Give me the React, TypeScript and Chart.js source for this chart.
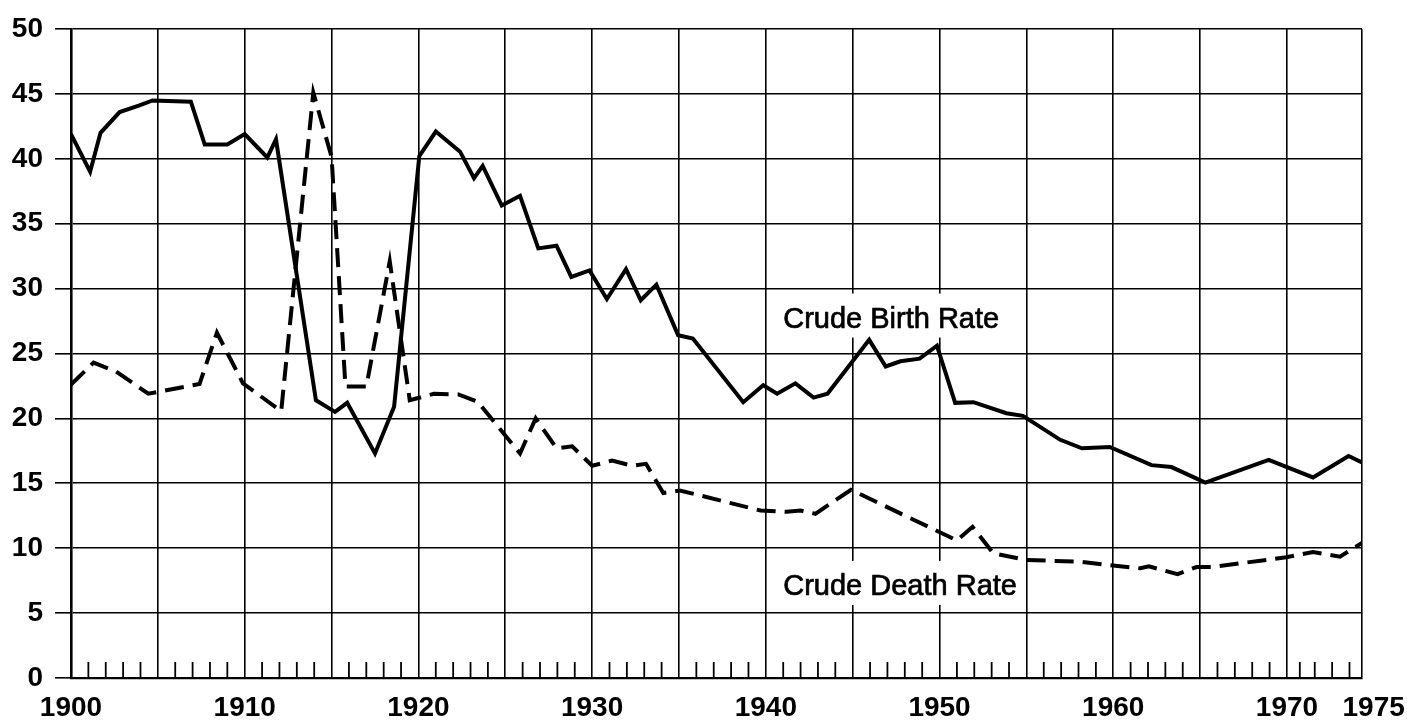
import React, { useEffect, useRef } from 'react';
import { Chart, registerables } from 'chart.js';

Chart.register(...registerables);

// ---- axis values ----
const X_MIN = 1900;
const X_MAX = 1974.32; // right edge of the printed grid, labelled "1975"
const Y_MIN = 0;
const Y_MAX = 50;
const Y_STEP = 5;
const gridYears = [1900, 1905, 1910, 1915, 1920, 1925, 1930, 1935, 1940, 1945, 1950, 1955, 1960, 1965, 1970];
const labelYears = [1900, 1910, 1920, 1930, 1940, 1950, 1960, 1970];
const endLabel = '1975';
const minorYears = [
  1901, 1902, 1903, 1904, 1906, 1907, 1908, 1909, 1911, 1912, 1913, 1914,
  1916, 1917, 1918, 1919, 1921, 1922, 1923, 1924, 1926, 1927, 1928, 1929,
  1931, 1932, 1933, 1934, 1936, 1937, 1938, 1939, 1941, 1942, 1943, 1944,
  1946, 1947, 1948, 1949, 1951, 1952, 1953, 1954, 1956, 1957, 1958, 1959,
  1961, 1962, 1963, 1964, 1966, 1967, 1968, 1969, 1970.74, 1971.6, 1972.6, 1973.6,
];

// ---- series ----
const birthYears = [
  1900.0, 1901.1, 1901.7, 1902.8, 1903.9, 1904.7, 1906.9, 1907.7, 1909.0, 1910.0,
  1911.3, 1911.8, 1914.1, 1915.2, 1915.9, 1917.5, 1918.6, 1920.05, 1921.0, 1922.4,
  1923.2, 1923.7, 1924.8, 1925.85, 1926.9, 1927.95, 1928.8, 1929.85, 1930.85, 1931.95,
  1932.8, 1933.7, 1934.95, 1935.8, 1938.7, 1939.85, 1940.65, 1941.7, 1942.75, 1943.55,
  1945.95, 1946.9, 1947.75, 1948.85, 1949.85, 1950.9, 1951.95, 1953.85, 1954.8, 1956.95,
  1958.2, 1959.8, 1962.2, 1963.35, 1965.3, 1968.95, 1971.5, 1973.55, 1974.32,
];
const birthRates = [
  41.9, 39.0, 42.0, 43.6, 44.1, 44.5, 44.4, 41.1, 41.1, 41.9,
  40.1, 41.5, 21.4, 20.5, 21.2, 17.3, 20.9, 40.2, 42.1, 40.55,
  38.5, 39.45, 36.4, 37.15, 33.1, 33.3, 30.9, 31.4, 29.2, 31.5,
  29.1, 30.3, 26.4, 26.15, 21.25, 22.55, 21.9, 22.7, 21.6, 21.9,
  26.05, 24.0, 24.4, 24.6, 25.6, 21.2, 21.25, 20.4, 20.2, 18.35,
  17.7, 17.8, 16.4, 16.25, 15.05, 16.8, 15.45, 17.1, 16.6,
];
const deathYears = [
  1900.0, 1901.3, 1902.6, 1904.45, 1907.4, 1908.4, 1909.9, 1912.1, 1913.95, 1915.0,
  1915.8, 1917.0, 1918.35, 1919.5, 1920.9, 1922.3, 1923.4, 1925.85, 1926.75, 1927.95,
  1928.85, 1930.0, 1931.15, 1932.3, 1933.1, 1934.1, 1935.05, 1939.7, 1941.2, 1942.0,
  1942.85, 1944.9, 1951.0, 1951.9, 1953.1, 1954.95, 1958.1, 1959.8, 1961.55, 1962.05,
  1963.7, 1964.8, 1965.7, 1969.95, 1971.5, 1973.05, 1974.32,
];
const deathRates = [
  22.6, 24.3, 23.6, 21.9, 22.65, 26.6, 22.7, 20.55, 45.1, 40.15,
  22.45, 22.45, 32.1, 21.4, 21.9, 21.85, 21.3, 17.3, 20.0, 17.7,
  17.85, 16.35, 16.75, 16.35, 16.5, 14.25, 14.45, 12.9, 12.8, 12.9,
  12.65, 14.5, 10.6, 11.65, 9.6, 9.1, 8.95, 8.7, 8.45, 8.6,
  8.0, 8.55, 8.55, 9.3, 9.7, 9.35, 10.4,
];

// ---- in-chart series labels ----
const seriesNames = ['Crude Birth Rate', 'Crude Death Rate'];
const nameYears = [1941.0, 1941.0];
const nameValues = [27.0, 6.4];

const NUM_FONT = { family: "'Liberation Sans', Arial, sans-serif", size: 28, weight: 'bold' as const };
const NAME_FONT = "29px 'Liberation Sans', Arial, sans-serif";

const zip = (xs: number[], ys: number[]) => xs.map((x, i) => ({ x, y: ys[i] }));

const seriesNamePlugin = {
  id: 'seriesNames',
  beforeDatasetsDraw(chart: any) {
    const { ctx, scales } = chart;
    const xs = scales.x;
    const ys = scales.y;
    ctx.save();
    // minor year ticks rising from the zero line
    ctx.strokeStyle = '#000';
    ctx.lineWidth = 1.8;
    const y0 = ys.getPixelForValue(0);
    minorYears.forEach((yr) => {
      const px = xs.getPixelForValue(yr);
      ctx.beginPath();
      ctx.moveTo(px, y0);
      ctx.lineTo(px, y0 - 16);
      ctx.stroke();
    });
    // white boxes behind the names
    ctx.font = NAME_FONT;
    seriesNames.forEach((t, i) => {
      const px = xs.getPixelForValue(nameYears[i]);
      const py = ys.getPixelForValue(nameValues[i]);
      const w = ctx.measureText(t).width;
      ctx.fillStyle = '#fff';
      ctx.fillRect(px - 8, py - 34, w + 16, 44);
    });
    ctx.restore();
  },
  afterDatasetsDraw(chart: any) {
    const { ctx, scales } = chart;
    ctx.save();
    ctx.font = NAME_FONT;
    ctx.fillStyle = '#000';
    ctx.strokeStyle = '#000';
    ctx.lineWidth = 0.7;
    ctx.textAlign = 'left';
    ctx.textBaseline = 'alphabetic';
    seriesNames.forEach((t, i) => {
      const px = scales.x.getPixelForValue(nameYears[i]);
      const py = scales.y.getPixelForValue(nameValues[i]);
      ctx.fillText(t, px, py);
      ctx.strokeText(t, px, py);
    });
    ctx.restore();
  },
};

export default function App() {
  const ref = useRef<HTMLCanvasElement>(null);
  useEffect(() => {
    if (!ref.current) return;
    const chart = new Chart(ref.current, {
      type: 'line',
      data: {
        datasets: [
          {
            label: seriesNames[0],
            data: zip(birthYears, birthRates),
            borderColor: '#000',
            borderWidth: 4,
            pointRadius: 0,
            tension: 0,
            borderJoinStyle: 'miter',
            fill: false,
          },
          {
            label: seriesNames[1],
            data: zip(deathYears, deathRates),
            borderColor: '#000',
            borderWidth: 4,
            borderDash: [19, 9],
            pointRadius: 0,
            tension: 0,
            borderJoinStyle: 'miter',
            fill: false,
          },
        ],
      },
      options: {
        responsive: false,
        animation: false,
        devicePixelRatio: 1,
        layout: { padding: { left: 0, right: 45, top: 29, bottom: 0 } },
        plugins: { legend: { display: false }, tooltip: { enabled: false } },
        scales: {
          x: {
            type: 'linear',
            min: X_MIN,
            max: X_MAX,
            afterBuildTicks: (s: any) => {
              s.ticks = [...gridYears, X_MAX].map((v) => ({ value: v }));
            },
            afterFit: (s: any) => {
              s.height = 47;
              s.paddingRight = 0;
            },
            ticks: {
              autoSkip: false,
              maxRotation: 0,
              padding: 13,
              color: '#000',
              font: NUM_FONT,
              callback: (v: any) => (v === X_MAX ? '   ' + endLabel : labelYears.includes(v) ? String(v) : ''),
            },
            grid: { color: '#000', lineWidth: 1.6, drawTicks: false },
            border: { display: true, color: '#000', width: 2.2 },
          },
          y: {
            min: Y_MIN,
            max: Y_MAX,
            afterFit: (s: any) => {
              s.width = 71;
            },
            ticks: { stepSize: Y_STEP, padding: 12, color: '#000', font: NUM_FONT },
            grid: { color: '#000', lineWidth: 1.6, drawTicks: true, tickLength: 16 },
            border: { display: true, color: '#000', width: 2.6 },
          },
        },
      },
      plugins: [seriesNamePlugin],
    });
    return () => chart.destroy();
  }, []);
  return (
    <div style={{ position: 'fixed', left: 0, top: 0, width: 1407, height: 725, background: '#fff' }}>
      <canvas ref={ref} width={1407} height={725} style={{ display: 'block' }} />
    </div>
  );
}
